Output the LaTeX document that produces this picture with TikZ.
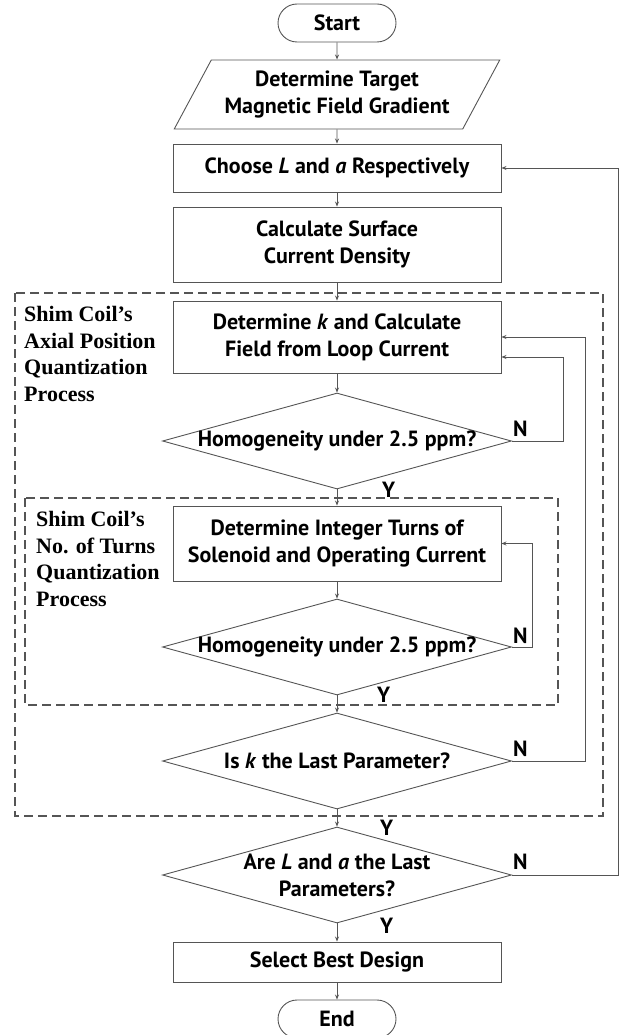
\documentclass[tikz,border=0pt]{standalone}
\usepackage{fontspec}
\setmainfont{PT Sans}
\newfontfamily\labelfont{Liberation Serif}
\usetikzlibrary{arrows.meta, shapes.geometric, shapes.misc, positioning}
\definecolor{linegray}{RGB}{85,85,85}
\tikzset{basic/.style={draw=linegray,line width=0.9pt,text=black,font=\bfseries\fontsize{22}{27}\selectfont,align=center,inner sep=0pt}}
\tikzset{process/.style={basic,rectangle,minimum width=328pt}}
\tikzset{terminal/.style={basic,rounded rectangle,minimum width=118pt,minimum height=38pt}}
\tikzset{inout/.style={basic,trapezium,trapezium left angle=55,trapezium right angle=125,trapezium stretches=true,minimum width=327pt,minimum height=69pt}}
\tikzset{decision/.style={basic,diamond,aspect=3.6,inner sep=-3pt,minimum width=349pt,minimum height=96pt}}
\tikzset{dashbox/.style={draw=linegray,line width=1.3pt,dash pattern=on 9pt off 5pt}}
\tikzset{grouplabel/.style={font=\labelfont\bfseries\fontsize{22}{26.7}\selectfont,align=left,inner sep=0pt,anchor=north west}}
\tikzset{answer/.style={font=\bfseries\fontsize{22}{27}\selectfont,inner sep=0pt}}
\tikzset{flow/.style={->,draw=linegray,line width=0.8pt}}

\begin{document}
\begin{tikzpicture}[
		x = 1pt, y = -1pt, % pixel grid, y runs down
		> = {Stealth[length=5pt,width=4pt]}, % arrow head style
		]
		\useasboundingbox (0,0) rectangle (625,1035);
		
		% Groups
		\coordinate (axialNW) at (15,293);
		\coordinate (axialSE) at (603,816);
		\coordinate (turnsNW) at (25,498);
		\coordinate (turnsSE) at (558,705);
		\draw[dashbox] (axialNW) rectangle (axialSE);
		\draw[dashbox] (turnsNW) rectangle (turnsSE);
		\node[grouplabel] (axiallabel) at (24,306) {Shim Coil’s\\Axial Position\\Quantization\\Process};
		\node[grouplabel] (turnslabel) at (36,511) {Shim Coil’s\\No. of Turns\\Quantization\\Process};
		
		% Steps
		\node[terminal] (start) at (337,23) {Start};
		\node[inout] (target) at (337,94.5) {Determine Target\\Magnetic Field Gradient};
		\node[process, minimum height=48pt] (choose) at (337,168) {Choose \textit{L} and \textit{a} Respectively};
		\node[process, minimum height=75pt] (calc) at (337,244.5) {Calculate Surface\\Current Density};
		\node[process, minimum height=72pt] (detk) at (337,337) {Determine \textit{k} and Calculate\\Field from Loop Current};
		\node[decision] (homo1) at (337,441) {Homogeneity under 2.5 ppm?};
		\node[process, minimum height=75pt] (turns) at (337,543.5) {Determine Integer Turns of\\Solenoid and Operating Current};
		\node[decision] (homo2) at (337,647) {Homogeneity under 2.5 ppm?};
		\node[decision] (lastk) at (337,761) {Is \textit{k} the Last Parameter?};
		\node[decision] (lastLa) at (337,875) {Are \textit{L} and \textit{a} the Last\\Parameters?};
		\node[process, minimum height=40pt] (best) at (337,962) {Select Best Design};
		\node[terminal] (end) at (337,1019) {End};
		
		% Linear
		\draw[flow] (start) -- (target);
		\draw[flow] (target) -- (choose);
		\draw[flow] (choose) -- (calc);
		\draw[flow] (calc) -- (detk);
		\draw[flow] (detk) -- (homo1);
		\draw[flow] (homo1) -- (turns);
		\draw[flow] (turns) -- (homo2);
		\draw[flow] (homo2) -- (lastk);
		\draw[flow] (lastk) -- (lastLa);
		\draw[flow] (lastLa) -- (best);
		\draw[flow] (best) -- (end);
		
		% Loops
		\coordinate (col1) at (563,0);
		\coordinate (col2) at (532,0);
		\coordinate (col3) at (585,0);
		\coordinate (col4) at (618,0);
		\draw[flow] (homo1.east) -- (homo1.east -| col1) |- ([yshift=-20pt]detk.east);
		\draw[flow] (homo2.east) -- (homo2.east -| col2) |- (turns.east);
		\draw[flow] (lastk.east) -- (lastk.east -| col3) |- (detk.east);
		\draw[flow] (lastLa.east) -- (lastLa.east -| col4) |- (choose.east);
		
		% Answers
		\node[answer, anchor=south west] (n1) at ([shift={(1pt,4pt)}]homo1.east) {N};
		\node[answer, anchor=south west] (n2) at ([shift={(1pt,3pt)}]homo2.east) {N};
		\node[answer, anchor=south west] (n3) at ([shift={(1pt,4pt)}]lastk.east) {N};
		\node[answer, anchor=south west] (n4) at ([shift={(1pt,5pt)}]lastLa.east) {N};
		\node[answer, anchor=base west] (y1) at ([shift={(45pt,-8pt)}]homo1.south) {Y};
		\node[answer, anchor=base west] (y2) at ([shift={(40pt,-7pt)}]homo2.south) {Y};
		\node[answer, anchor=base west] (y3) at ([shift={(43pt,-26pt)}]lastk.south) {Y};
		\node[answer, anchor=base west] (y4) at ([shift={(43pt,-10pt)}]lastLa.south) {Y};
\end{tikzpicture}
\end{document}
